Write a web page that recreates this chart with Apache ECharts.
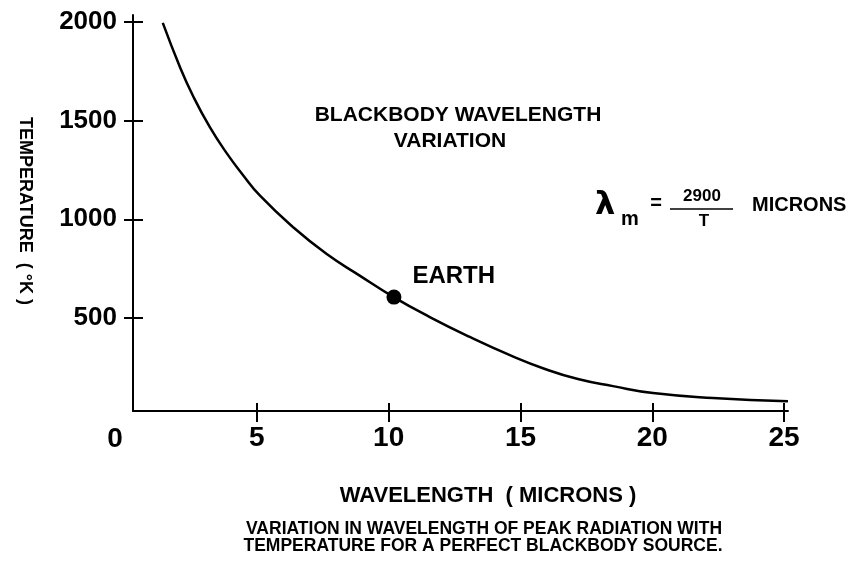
<!DOCTYPE html>
<html>
<head>
<meta charset="utf-8">
<script src="https://cdn.jsdelivr.net/npm/echarts@6/dist/echarts.min.js"></script>
<style>
html,body{margin:0;padding:0;background:#fff;}
#chart{width:853px;height:563px;}
</style>
</head>
<body>
<div id="chart"></div>
<script>
// ---- data ----
const wavelength = [1.43, 2.08, 2.57, 3.21, 3.86, 4.47, 5.11, 6.36, 7.65, 8.90, 10.19, 11.56, 13.08, 14.60, 15.93, 17.18, 18.51, 20.03, 22.30, 25.15];
const temperature = [1995, 1772, 1627, 1468, 1334, 1225, 1121, 962, 824, 715, 606, 505, 404, 312, 242, 191, 155, 120, 95, 79];
const earthPoint = [10.2, 606];
const xTickValues = [5, 10, 15, 20, 25];
const yTickValues = [500, 1000, 1500, 2000];
const titleLines = ['BLACKBODY WAVELENGTH', 'VARIATION'];
const xAxisTitle = 'WAVELENGTH  ( MICRONS )';
const yAxisTitle = 'TEMPERATURE  ( °K )';
const captionLines = ['VARIATION IN WAVELENGTH OF PEAK RADIATION WITH', 'TEMPERATURE FOR A PERFECT BLACKBODY SOURCE.'];

const FF = '"Liberation Sans", Arial, Helvetica, sans-serif';
const chart = echarts.init(document.getElementById('chart'), null, {renderer: 'canvas'});

const curveData = wavelength.map((w, i) => [w, temperature[i]]);

function xAxisCfg(inside, show) {
  return {
    type: 'value', min: 0.3, max: 25.15, position: 'bottom', offset: 0,
    axisLine: {show: show, onZero: false, lineStyle: {color: '#000', width: 2}},
    axisTick: {show: true, inside: inside, length: inside ? 8 : 11, customValues: xTickValues, lineStyle: {color: '#000', width: 2}},
    axisLabel: {show: show, customValues: xTickValues, formatter: v => String(v), margin: 13, color: '#000', fontSize: 28, fontWeight: 'bold', fontFamily: FF},
    splitLine: {show: false}
  };
}
function yAxisCfg(inside, show) {
  return {
    type: 'value', min: 29, max: 2035, position: 'left', offset: 0,
    axisLine: {show: show, onZero: false, lineStyle: {color: '#000', width: 2}},
    axisTick: {show: true, inside: inside, length: inside ? 10 : 9, customValues: yTickValues, lineStyle: {color: '#000', width: 2}},
    axisLabel: {show: show, customValues: yTickValues, formatter: v => String(v), margin: 16, color: '#000', fontSize: 26, fontWeight: 'bold', fontFamily: FF},
    splitLine: {show: false}
  };
}

const bold = (size) => 'bold ' + size + 'px ' + FF;

chart.setOption({
  animation: false,
  backgroundColor: '#fff',
  grid: {left: 133, right: 65, top: 15, bottom: 152, containLabel: false},
  xAxis: [xAxisCfg(false, true), xAxisCfg(true, false)],
  yAxis: [yAxisCfg(false, true), yAxisCfg(true, false)],
  series: [
    {
      type: 'line', data: curveData, smooth: true,
      showSymbol: false, symbol: 'none',
      lineStyle: {color: '#000', width: 2.5}, xAxisIndex: 0, yAxisIndex: 0, z: 3
    },
    {
      type: 'scatter', data: [earthPoint], symbolSize: 15,
      itemStyle: {color: '#000', opacity: 1}, xAxisIndex: 0, yAxisIndex: 0, z: 4,
      label: {show: true, position: 'right', offset: [6, -21], formatter: 'EARTH',
        color: '#000', opacity: 1, fontSize: 24, fontWeight: 'bold', fontFamily: FF}
    }
  ],
  graphic: [
    {type: 'text', x: 458, y: 115, style: {text: titleLines[0], font: bold(21), fill: '#000', textAlign: 'center', textVerticalAlign: 'middle'}},
    {type: 'text', x: 450, y: 141, style: {text: titleLines[1], font: bold(21), fill: '#000', textAlign: 'center', textVerticalAlign: 'middle'}},
    {type: 'text', x: 115, y: 439, style: {text: '0', font: bold(28), fill: '#000', textAlign: 'center', textVerticalAlign: 'middle'}},
    {type: 'text', x: 25, y: 211, rotation: -Math.PI / 2, style: {text: yAxisTitle, font: bold(18), fill: '#000', textAlign: 'center', textVerticalAlign: 'middle'}},
    {type: 'text', x: 488, y: 496, style: {text: xAxisTitle, font: bold(22), fill: '#000', textAlign: 'center', textVerticalAlign: 'middle'}},
    {type: 'text', x: 484, y: 529, style: {text: captionLines[0], font: bold(17.5), fill: '#000', textAlign: 'center', textVerticalAlign: 'middle'}},
    {type: 'text', x: 483, y: 546, style: {text: captionLines[1], font: bold(17.5), fill: '#000', textAlign: 'center', textVerticalAlign: 'middle'}},
    // formula  λm = 2900 / T  MICRONS
    {type: 'text', x: 605, y: 206, style: {text: 'λ', font: 'bold 32px "DejaVu Sans", sans-serif', fill: '#000', textAlign: 'center', textVerticalAlign: 'middle'}},
    {type: 'text', x: 630, y: 219, style: {text: 'm', font: bold(20), fill: '#000', textAlign: 'center', textVerticalAlign: 'middle'}},
    {type: 'text', x: 656, y: 203, style: {text: '=', font: bold(20), fill: '#000', textAlign: 'center', textVerticalAlign: 'middle'}},
    {type: 'text', x: 702, y: 196, style: {text: '2900', font: bold(17), fill: '#000', textAlign: 'center', textVerticalAlign: 'middle'}},
    {type: 'line', shape: {x1: 670, y1: 209, x2: 733, y2: 209}, style: {stroke: '#000', lineWidth: 1.5}},
    {type: 'text', x: 704, y: 221, style: {text: 'T', font: bold(17), fill: '#000', textAlign: 'center', textVerticalAlign: 'middle'}},
    {type: 'text', x: 752, y: 205, style: {text: 'MICRONS', font: bold(20), fill: '#000', textAlign: 'left', textVerticalAlign: 'middle'}}
  ]
});
</script>
</body>
</html>
